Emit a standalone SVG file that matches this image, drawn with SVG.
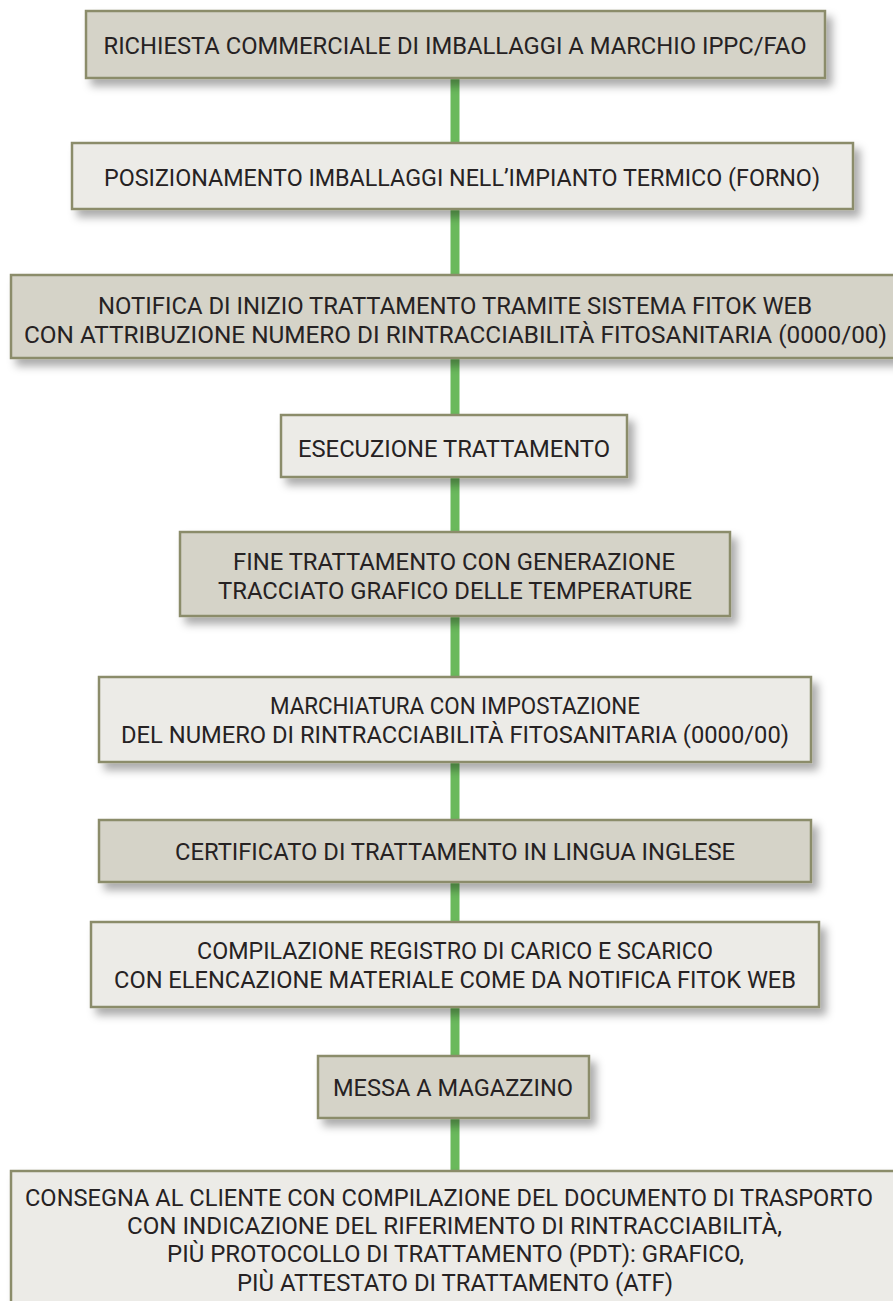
<svg xmlns="http://www.w3.org/2000/svg" width="893" height="1301" viewBox="0 0 893 1301">
<defs>
<filter id="sh" x="-10%" y="-30%" width="125%" height="170%">
<feDropShadow dx="6" dy="7" stdDeviation="4.5" flood-color="#000" flood-opacity="0.33"/>
</filter>
<style>
.box{stroke:#8b8c6b;stroke-width:2.5;filter:url(#sh)}
.dark{fill:#d5d3c8}
.light{fill:#ecebe7}
.t{font-family:Roboto,"Liberation Sans",sans-serif;font-size:24px;font-weight:400;fill:#262223;text-anchor:middle}
.c{stroke:#6ab95c;stroke-width:9;fill:none}
</style>
</defs>
<rect width="893" height="1301" fill="#ffffff"/>
<g id="connectors">
<line class="c" x1="455" y1="78" x2="455" y2="143"/>
<line class="c" x1="455" y1="209" x2="455" y2="275"/>
<line class="c" x1="455" y1="358" x2="455" y2="415"/>
<line class="c" x1="455" y1="477" x2="455" y2="532"/>
<line class="c" x1="455" y1="616" x2="455" y2="677"/>
<line class="c" x1="455" y1="762" x2="455" y2="820"/>
<line class="c" x1="455" y1="882" x2="455" y2="922"/>
<line class="c" x1="455" y1="1007" x2="455" y2="1056"/>
<line class="c" x1="455" y1="1118" x2="455" y2="1171"/>
</g>
<g id="n1">
<rect class="box dark" x="86" y="11" width="739" height="67"/>
<text class="t" x="455" y="53.5" textLength="703" lengthAdjust="spacingAndGlyphs">RICHIESTA COMMERCIALE DI IMBALLAGGI A MARCHIO IPPC/FAO</text>
</g>
<g id="n2">
<rect class="box light" x="72" y="143" width="781" height="66"/>
<text class="t" x="462" y="185.5" textLength="716" lengthAdjust="spacingAndGlyphs">POSIZIONAMENTO IMBALLAGGI NELL’IMPIANTO TERMICO (FORNO)</text>
</g>
<g id="n3">
<rect class="box dark" x="11" y="275" width="892" height="83"/>
<text class="t" x="455" y="313.5" textLength="714" lengthAdjust="spacingAndGlyphs">NOTIFICA DI INIZIO TRATTAMENTO TRAMITE SISTEMA FITOK WEB</text>
<text class="t" x="455.5" y="342.5" textLength="863" lengthAdjust="spacingAndGlyphs">CON ATTRIBUZIONE NUMERO DI RINTRACCIABILITÀ FITOSANITARIA (0000/00)</text>
</g>
<g id="n4">
<rect class="box light" x="281" y="415" width="346" height="62"/>
<text class="t" x="454" y="456.5" textLength="312" lengthAdjust="spacingAndGlyphs">ESECUZIONE TRATTAMENTO</text>
</g>
<g id="n5">
<rect class="box dark" x="180" y="532" width="550" height="84"/>
<text class="t" x="454" y="570" textLength="442" lengthAdjust="spacingAndGlyphs">FINE TRATTAMENTO CON GENERAZIONE</text>
<text class="t" x="455" y="598.5" textLength="474" lengthAdjust="spacingAndGlyphs">TRACCIATO GRAFICO DELLE TEMPERATURE</text>
</g>
<g id="n6">
<rect class="box light" x="99" y="677" width="712" height="85"/>
<text class="t" x="455" y="714" textLength="370" lengthAdjust="spacingAndGlyphs">MARCHIATURA CON IMPOSTAZIONE</text>
<text class="t" x="455" y="743" textLength="668" lengthAdjust="spacingAndGlyphs">DEL NUMERO DI RINTRACCIABILITÀ FITOSANITARIA (0000/00)</text>
</g>
<g id="n7">
<rect class="box dark" x="99" y="820" width="712" height="62"/>
<text class="t" x="455" y="859.5" textLength="560" lengthAdjust="spacingAndGlyphs">CERTIFICATO DI TRATTAMENTO IN LINGUA INGLESE</text>
</g>
<g id="n8">
<rect class="box light" x="91" y="922" width="728" height="85"/>
<text class="t" x="455" y="959" textLength="516" lengthAdjust="spacingAndGlyphs">COMPILAZIONE REGISTRO DI CARICO E SCARICO</text>
<text class="t" x="455" y="988" textLength="682" lengthAdjust="spacingAndGlyphs">CON ELENCAZIONE MATERIALE COME DA NOTIFICA FITOK WEB</text>
</g>
<g id="n9">
<rect class="box dark" x="318" y="1056" width="271" height="62"/>
<text class="t" x="453" y="1095.5" textLength="240" lengthAdjust="spacingAndGlyphs">MESSA A MAGAZZINO</text>
</g>
<g id="n10">
<rect class="box light" x="11" y="1171" width="892" height="150"/>
<text class="t" x="449" y="1205.5" textLength="848" lengthAdjust="spacingAndGlyphs">CONSEGNA AL CLIENTE CON COMPILAZIONE DEL DOCUMENTO DI TRASPORTO</text>
<text class="t" x="454.5" y="1234" textLength="655" lengthAdjust="spacingAndGlyphs">CON INDICAZIONE DEL RIFERIMENTO DI RINTRACCIABILITÀ,</text>
<text class="t" x="455.5" y="1262" textLength="577" lengthAdjust="spacingAndGlyphs">PIÙ PROTOCOLLO DI TRATTAMENTO (PDT): GRAFICO,</text>
<text class="t" x="455" y="1290.5" textLength="436" lengthAdjust="spacingAndGlyphs">PIÙ ATTESTATO DI TRATTAMENTO (ATF)</text>
</g>
</svg>
